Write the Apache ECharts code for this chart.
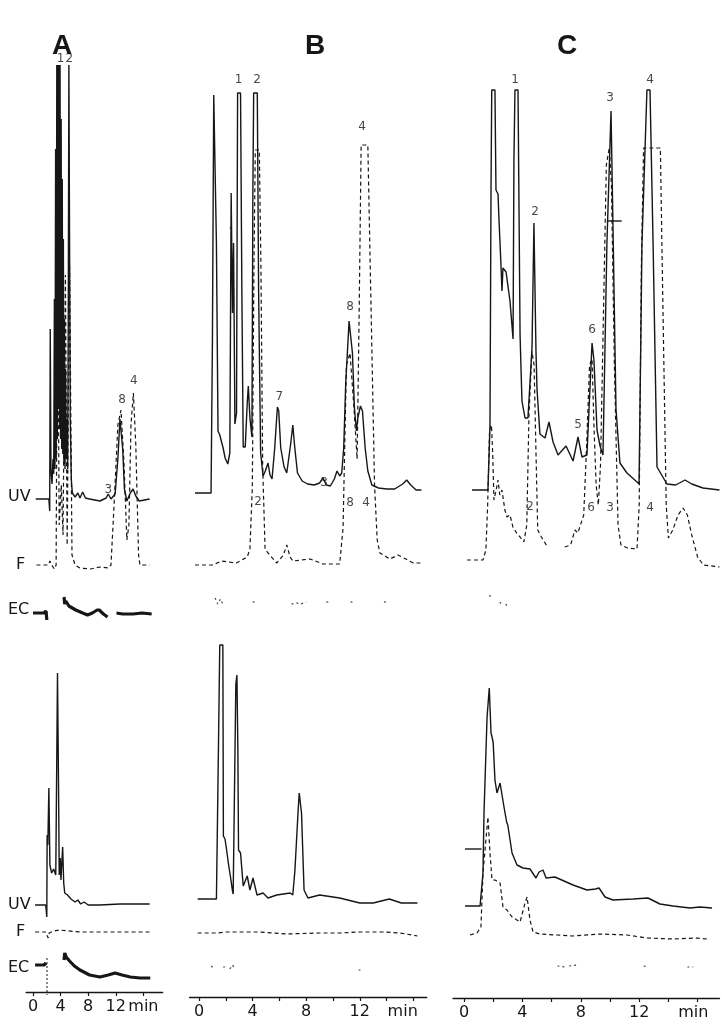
<!DOCTYPE html>
<html><head><meta charset="utf-8">
<script src="https://cdn.jsdelivr.net/npm/echarts@6/dist/echarts.min.js"></script>
<style>html,body{margin:0;padding:0;background:#fff}#c{width:722px;height:1024px}</style>
</head><body><div id="c"></div>
<script>
// ---------- DATA: [time (min), signal height (arbitrary units)] ----------
// Column A, upper chromatogram
const A_top_UV = [[0.4,0],[2.3,0],[2.42,-12],[2.5,170],[2.6,30],[2.75,15],[2.9,40],[3.0,25],[3.1,200],[3.18,30],[3.28,350],[3.36,40],[3.45,434],[3.52,60],[3.6,434],[3.68,90],[3.76,434],[3.84,70],[3.92,434],[4.0,60],[4.08,380],[4.16,50],[4.24,320],[4.32,45],[4.4,260],[4.48,35],[4.56,180],[4.64,30],[4.72,130],[4.82,40],[4.92,80],[5.02,30],[5.12,200],[5.2,434],[5.3,434],[5.4,80],[5.55,20],[5.7,6],[6.1,2],[6.5,6],[6.8,1],[7.2,7],[7.6,1],[8.2,0],[9.7,-2],[10.6,1],[10.9,5],[11.3,0],[11.9,5],[12.3,40],[12.6,80],[12.8,82],[13.0,50],[13.25,10],[13.6,-2],[14.1,6],[14.5,10],[14.9,3],[15.4,-2],[16.9,0]];
const A_top_F = [[0.5,0],[2.2,0],[2.45,4],[2.7,0],[3.1,-4],[3.35,0],[3.55,300],[3.8,40],[4.1,80],[4.35,30],[4.7,290],[4.95,20],[5.3,300],[5.65,10],[6.1,0],[6.8,-3],[8.3,-4],[9.7,-2],[10.9,-3],[11.3,0],[11.75,60],[12.3,140],[12.75,155],[13.2,100],[13.6,25],[13.9,40],[14.2,140],[14.55,172],[14.9,120],[15.3,10],[15.5,0],[16.9,0]];
const A_top_EC = [[0,-3],[1.6,-3],[1.9,-1],[2.0,-10],null,[4.5,13],[4.6,6],[4.75,9],[5.2,4],[6.2,0],[7.2,-3],[7.9,-5],[8.6,-3],[9.3,0],[9.6,0],[10.2,-4],[10.8,-7],null,[12.1,-3],[13.0,-4],[14.5,-4],[15.8,-3],[17.2,-4]];
// Column A, lower chromatogram
const A_bot_UV = [[0.3,0],[1.85,0],[2.0,-12],[2.05,70],[2.15,60],[2.3,117],[2.45,40],[2.7,32],[3.0,36],[3.3,30],[3.45,150],[3.55,232],[3.7,120],[3.8,30],[3.95,47],[4.05,25],[4.3,58],[4.45,22],[4.6,12],[5.0,10],[5.5,6],[6.1,3],[6.5,5],[6.9,1],[7.4,3],[8.0,0],[9.7,0],[12.6,1],[16.9,1]];
const A_bot_F = [[0.3,0],[1.8,0],[2.0,-2],[2.2,-6],[2.35,-1],[3.0,1],[3.8,2],[6.8,0],[9.7,0],[12.6,0],[16.9,0]];
const A_bot_EC = [[0.3,10],[1.6,10],[1.9,12],null,[4.5,15],[4.6,22],[4.8,18],[5.3,14],[6.0,9],[6.8,5],[8.2,0],[9.7,-2],[10.9,0],[11.9,2],[12.9,0],[14.1,-2],[15.5,-3],[17,-3]];
const A_inject = [[2.03,17],[2.03,-20]];
// Column B, upper chromatogram
const B_top_UV = [[-0.3,0],[0.9,0],[1.0,150],[1.1,398],[1.22,400],[1.3,250],[1.42,62],[1.55,58],[1.65,60],[1.8,45],[1.95,35],[2.15,29],[2.3,40],[2.4,300],[2.5,180],[2.58,250],[2.68,69],[2.8,80],[2.88,400],[3.1,400],[3.2,200],[3.3,46],[3.45,46],[3.6,90],[3.68,107],[3.8,75],[3.95,56],[4.02,300],[4.08,400],[4.35,400],[4.45,200],[4.6,40],[4.78,17],[4.95,22],[5.15,30],[5.3,18],[5.45,14],[5.65,45],[5.85,86],[5.95,82],[6.1,45],[6.35,26],[6.55,20],[6.85,50],[7.0,68],[7.15,45],[7.35,20],[7.7,12],[8.1,9],[8.6,8],[9.0,10],[9.25,15],[9.5,8],[9.8,7],[10.1,14],[10.3,22],[10.5,17],[10.65,20],[10.8,45],[10.95,110],[11.2,172],[11.3,170],[11.45,140],[11.6,85],[11.75,62],[11.85,75],[12.05,87],[12.2,82],[12.4,45],[12.6,22],[12.9,8],[13.4,5],[14.0,4],[14.6,4],[15.2,9],[15.5,13],[15.8,8],[16.2,3],[16.6,3]];
const B_top_UV_mark = [[2.3,265],[2.45,265]];
const B_top_F = [[-0.3,0],[1.0,0],[1.7,4],[2.8,2],[3.6,8],[3.8,16],[3.98,78],[4.1,300],[4.2,415],[4.5,415],[4.62,300],[4.75,100],[4.93,16],[5.15,12],[5.8,2],[6.3,10],[6.55,20],[6.8,8],[7.0,4],[8.3,6],[9.25,1],[10.5,1],[10.75,37],[11.0,200],[11.27,212],[11.55,160],[11.8,106],[11.95,250],[12.1,420],[12.6,420],[12.85,250],[13.1,80],[13.3,25],[13.5,12],[14.25,6],[14.85,10],[16.0,2],[16.6,2]];
const B_top_EC = [[1.2,4],[1.4,-2],[1.6,3],[1.8,-3],null,[4.0,0],[4.2,0],null,[6.9,-2],[7.3,-1],[7.6,-2],[8.0,0],null,[9.5,0],[9.7,0],null,[11.3,0],[11.5,0],null,[13.8,0],[14.0,0]];
// Column B, lower chromatogram
const B_bot_UV = [[-0.1,0],[1.3,0],[1.45,150],[1.55,254],[1.78,254],[1.82,63],[1.94,60],[2.05,50],[2.2,35],[2.35,22],[2.5,8],[2.55,5],[2.75,215],[2.83,224],[2.9,150],[2.95,49],[3.1,46],[3.3,13],[3.6,23],[3.8,9],[4.03,21],[4.33,4],[4.78,6],[5.15,1],[5.8,4],[6.8,6],[7.0,4],[7.16,29],[7.4,89],[7.48,106],[7.65,86],[7.84,9],[8.13,1],[9.0,4],[10.5,1],[12.0,-4],[13.0,-4],[14.2,0],[15.1,-4],[16.3,-4]];
const B_bot_F = [[-0.1,0],[1.4,0],[2.0,1],[4.5,1],[6.5,-1],[9.0,0],[10.5,0],[12.0,1],[13.7,1],[15.0,0],[16.3,-3]];
const B_bot_EC = [[0.9,1],[1.1,-1],null,[1.8,0],[2.0,0],null,[2.3,-2],[2.5,2],[2.7,-2],null,[11.9,-3],[12.2,-3]];
// Column C, upper chromatogram
const C_top_UV = [[0.55,0],[1.64,0],[1.78,64],[1.85,300],[1.9,400],[2.12,400],[2.19,300],[2.33,296],[2.4,269],[2.53,226],[2.6,199],[2.67,222],[2.88,218],[3.15,189],[3.36,151],[3.42,330],[3.49,400],[3.7,400],[3.84,155],[3.97,89],[4.18,72],[4.38,72],[4.66,143],[4.79,267],[4.93,139],[5.0,101],[5.2,56],[5.55,52],[5.82,68],[6.1,48],[6.44,35],[6.99,44],[7.47,29],[7.81,53],[8.08,33],[8.42,35],[8.77,147],[8.9,130],[9.11,60],[9.32,44],[9.52,35],[9.79,247],[10.07,379],[10.2,267],[10.41,81],[10.68,27],[11.16,17],[11.85,8],[11.99,6],[12.19,247],[12.53,400],[12.74,400],[12.95,247],[13.22,23],[13.9,6],[14.5,5],[15.14,10],[15.6,6],[16.37,2],[17.5,0]];
const C_top_UV_mark = [[9.8,269],[10.8,269]];
const C_top_F = [[0.2,5],[1.3,5],[1.5,15],[1.62,60],[1.75,135],[1.88,140],[1.97,110],[2.05,65],[2.2,75],[2.33,85],[2.45,70],[2.6,75],[2.8,55],[2.94,48],[3.15,50],[3.35,38],[3.6,32],[3.84,28],[4.1,23],[4.3,40],[4.45,150],[4.65,214],[4.8,200],[4.95,100],[5.05,35],[5.3,28],[5.68,19],null,[6.9,18],[7.3,20],[7.6,35],[7.8,32],[8.2,50],[8.4,120],[8.6,200],[8.77,206],[8.9,140],[9.05,80],[9.2,60],[9.35,100],[9.55,250],[9.75,400],[9.95,417],[10.1,380],[10.3,200],[10.55,40],[10.75,20],[11.2,17],[11.85,16],[12.0,60],[12.15,300],[12.3,417],[13.45,417],[13.6,280],[13.85,60],[14.0,27],[14.3,35],[14.66,50],[15.0,57],[15.3,50],[15.6,30],[16.0,8],[16.4,0],[17.5,-2]];
const C_top_EC = [[1.75,-5],[1.85,-8],null,[2.45,-12],[2.55,-14],null,[2.85,-14],[2.95,-16]];
// Column C, lower chromatogram
const C_bot_UV = [[0.07,0],[1.1,0],[1.3,33],[1.37,93],[1.58,189],[1.73,218],[1.85,173],[1.92,169],[2.0,163],[2.12,126],[2.26,113],[2.47,123],[2.58,124],[2.74,99],[2.92,84],[3.0,81],[3.29,53],[3.63,41],[4.04,38],[4.52,37],[4.93,28],[5.14,34],[5.41,36],[5.62,28],[6.23,29],[7.47,21],[8.42,16],[9.0,17],[9.25,18],[9.66,9],[10.2,6],[11.58,7],[12.6,8],[13.42,2],[14.32,0],[15.48,-2],[16.16,-1],[16.99,-2]];
const C_bot_UV_mark = [[0.07,57],[1.2,57]];
const C_bot_F = [[0.41,0],[0.89,2],[1.16,8],[1.3,62],[1.58,108],[1.64,118],[1.78,82],[1.92,55],[2.12,55],[2.47,52],[2.67,28],[2.94,25],[3.29,18],[3.84,13],[4.18,32],[4.32,38],[4.52,15],[4.73,3],[5.2,1],[6.37,0],[7.47,-1],[9.32,1],[11.16,0],[12.53,-3],[14.32,-4],[15.96,-3],[16.64,-4]];
const C_bot_EC = [[6.4,1],[6.9,0],null,[7.2,1],[7.7,2],null,[12.3,1],[12.6,0],null,[15.3,0],[15.7,0]];
// Peak labels: [time, height (UV scale), text]
const A_top_labels = [[4.0,440,'1'],[5.25,440,'2'],[12.9,99,'8'],[14.6,118,'4'],[10.9,9,'3']];
const B_top_labels = [[2.95,413,'1'],[4.33,413,'2'],[6.0,96,'7'],[9.33,10,'3'],[11.27,186,'8'],[12.16,366,'4'],[4.4,-9,'2'],[11.27,-10,'8'],[12.46,-10,'4']];
const C_top_labels = [[3.49,410,'1'],[4.86,278,'2'],[7.81,65,'5'],[8.77,160,'6'],[10.0,392,'3'],[12.74,410,'4'],[4.52,-17,'2'],[8.7,-18,'6'],[10.0,-18,'3'],[12.74,-18,'4']];
// Axis ticks and tick labels
const A_ticks = [0,4,8,12,16];
const A_tickLabels = [[0,'0'],[4,'4'],[8,'8'],[12,'12'],[16,'min']];
const B_ticks = [0,2,4,6,8,10,12,14,16];
const B_tickLabels = [[0,'0'],[4,'4'],[8,'8'],[12,'12'],[15.2,'min']];
const C_ticks = [0,2,4,6,8,10,12,14,16];
const C_tickLabels = [[0,'0'],[4,'4'],[8,'8'],[12,'12'],[15.7,'min']];
const panelTitles = ['A','B','C'];
const traceNames = ['UV','F','EC'];

// ---------- LAYOUT ----------
const layout = {
  A:{x0:33,k:6.9,min:-1,max:18.8,axisY:992,ticks:A_ticks,tl:A_tickLabels},
  B:{x0:199,k:13.4,min:-0.7,max:17,axisY:997,ticks:B_ticks,tl:B_tickLabels},
  C:{x0:464,k:14.6,min:-0.75,max:17.5,axisY:998,ticks:C_ticks,tl:C_tickLabels}
};
const YMIN=-40, YMAX=460;
const grid=[], xAxis=[], yAxis=[], series=[];
const INK='#161616';
function addGrid(col, base){
  const L=layout[col]; const i=grid.length;
  grid.push({left:L.x0+L.k*L.min, width:L.k*(L.max-L.min), top:base-YMAX, height:YMAX-YMIN});
  xAxis.push({gridIndex:i,type:'value',min:L.min,max:L.max,show:false});
  yAxis.push({gridIndex:i,type:'value',min:YMIN,max:YMAX,show:false});
  return i;
}
function split(arr){const out=[];let cur=[];arr.forEach(p=>{if(p===null){if(cur.length)out.push(cur);cur=[];}else cur.push(p);});if(cur.length)out.push(cur);return out;}
const styles={
  UV:{color:INK,width:1.4,type:'solid'},
  F:{color:INK,width:1.2,type:[4,3]},
  EC:{color:INK,width:3.2,type:'solid'},
  ECd:{color:'#444',width:1.2,type:[2,3]},
  dot:{color:INK,width:1,type:[2,2]}
};
function addLine(gi, data, st){
  split(data).forEach(seg=>series.push({type:'line',xAxisIndex:gi,yAxisIndex:gi,data:seg,symbol:'none',clip:false,silent:true,animation:false,lineStyle:styles[st]}));
}
function addLabels(gi, data){
  series.push({type:'scatter',xAxisIndex:gi,yAxisIndex:gi,data:data,symbolSize:0.1,silent:true,animation:false,itemStyle:{color:'rgba(0,0,0,0)'},
    label:{show:true,position:'inside',formatter:p=>p.data[2],color:INK,fontSize:12,fontFamily:'DejaVu Sans'}});
}
// Column A
let g;
g=addGrid('A',499); addLine(g,A_top_UV,'UV'); addLabels(g,A_top_labels);
g=addGrid('A',565); addLine(g,A_top_F,'F');
g=addGrid('A',610); addLine(g,A_top_EC,'EC');
g=addGrid('A',905); addLine(g,A_bot_UV,'UV');
g=addGrid('A',932); addLine(g,A_bot_F,'F');
g=addGrid('A',975); addLine(g,A_bot_EC,'EC'); addLine(g,A_inject,'dot');
// Column B
g=addGrid('B',493); addLine(g,B_top_UV,'UV'); addLine(g,B_top_UV_mark,'UV'); addLabels(g,B_top_labels);
g=addGrid('B',565); addLine(g,B_top_F,'F');
g=addGrid('B',602); addLine(g,B_top_EC,'ECd');
g=addGrid('B',899); addLine(g,B_bot_UV,'UV');
g=addGrid('B',933); addLine(g,B_bot_F,'F');
g=addGrid('B',967); addLine(g,B_bot_EC,'ECd');
// Column C
g=addGrid('C',490); addLine(g,C_top_UV,'UV'); addLine(g,C_top_UV_mark,'UV'); addLabels(g,C_top_labels);
g=addGrid('C',565); addLine(g,C_top_F,'F');
g=addGrid('C',590); addLine(g,C_top_EC,'ECd');
g=addGrid('C',906); addLine(g,C_bot_UV,'UV'); addLine(g,C_bot_UV_mark,'UV');
g=addGrid('C',935); addLine(g,C_bot_F,'F');
g=addGrid('C',967); addLine(g,C_bot_EC,'ECd');
// Visible time axes
['A','B','C'].forEach(col=>{
  const L=layout[col]; const i=grid.length;
  grid.push({left:L.x0+L.k*L.min, width:L.k*(L.max-L.min), top:L.axisY-20, height:20});
  const map={}; L.tl.forEach(([v,t])=>map[v]=t);
  xAxis.push({gridIndex:i,type:'value',min:L.min,max:L.max,
    axisLine:{show:true,onZero:false,lineStyle:{color:INK,width:1.3}},
    axisTick:{show:true,customValues:L.ticks,length:4,lineStyle:{color:INK,width:1.2}},
    axisLabel:{show:true,customValues:L.tl.map(d=>d[0]),formatter:v=>map[v]!==undefined?map[v]:'',color:INK,fontSize:16,fontFamily:'DejaVu Sans',margin:7},
    splitLine:{show:false}});
  yAxis.push({gridIndex:i,type:'value',show:false,min:0,max:1});
});
// Titles and trace labels
const titleX=[62,315,567];
const graphic=[];
panelTitles.forEach((t,i)=>graphic.push({type:'text',x:titleX[i],y:46,style:{text:t,fill:INK,font:'bold 28px "Liberation Sans"',align:'center',verticalAlign:'middle',textAlign:'center',textVerticalAlign:'middle'}}));
const nameY=[[497,565,610],[905,932,968]];
nameY.forEach(row=>row.forEach((y,j)=>graphic.push({type:'text',x:j===1?16:8,y:y,style:{text:traceNames[j],fill:INK,font:'16px "DejaVu Sans"',align:'left',verticalAlign:'middle',textAlign:'left',textVerticalAlign:'middle'}})));

const chart=echarts.init(document.getElementById('c'),null,{renderer:'canvas'});
chart.setOption({backgroundColor:'#fff',animation:false,grid,xAxis,yAxis,series,graphic});
</script></body></html>
